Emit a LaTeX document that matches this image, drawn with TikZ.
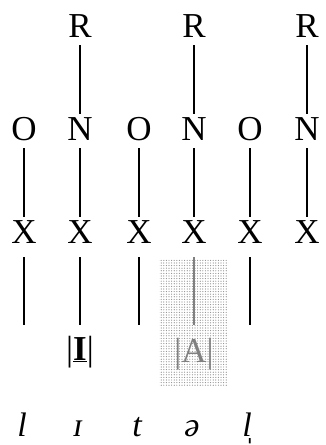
\documentclass[tikz,border=0pt]{standalone}
\usepackage{fontspec}
\setmainfont{Liberation Serif}
\usetikzlibrary{patterns.meta}

\begin{document}
\begin{tikzpicture}[
    x=1pt, y=-1pt,
    seg/.style={font=\fontsize{35}{38}\selectfont, inner xsep=2pt, inner ysep=8pt,
      text height=18pt, text depth=0pt},
    ipa/.style={font=\fontsize{34}{38}\selectfont\itshape, inner sep=0pt, anchor=base},
    tier/.style={line width=1.1pt},
    shade/.style={pattern={Dots[radius=0.6pt, distance=2.6pt]}, pattern color=gray!90}
  ]
    \useasboundingbox (0,0) rectangle (325,445);
    % shaded vowel slot
    \fill[shade] (159,259) rectangle (228,386);
    % R tier
    \node[seg] (r1) at (80,28) {R};
    \node[seg] (r2) at (194,28) {R};
    \node[seg] (r3) at (307,28) {R};
    % O/N tier
    \node[seg] (o1) at (24,131) {O};
    \node[seg] (n1) at (80,131) {N};
    \node[seg] (o2) at (139,131) {O};
    \node[seg] (n2) at (194,131) {N};
    \node[seg] (o3) at (250,131) {O};
    \node[seg] (n3) at (307,131) {N};
    % skeletal tier
    \node[seg] (x1) at (24,234) {X};
    \node[seg] (x2) at (80,234) {X};
    \node[seg] (x3) at (139,234) {X};
    \node[seg] (x4) at (194,234) {X};
    \node[seg] (x5) at (250,234) {X};
    \node[seg] (x6) at (307,234) {X};
    \coordinate (e1) at (24,325);
    \coordinate (e2) at (80,325);
    \coordinate (e3) at (139,325);
    \coordinate (e4) at (194,325);
    \coordinate (e5) at (250,325);
    % elements
    \node[seg] (ei) at (80,351) {|\underline{\textbf{I}}|};
    \node[seg, text=gray] (ea) at (194,353) {|A|};
    % surface forms
    \node[ipa] (s1) at (22,436) {l};
    \node[ipa] (s2) at (78,436) {ɪ};
    \node[ipa] (s3) at (137,436) {t};
    \node[ipa] (s4) at (192,436) {ə};
    \node[ipa] (s5) at (247,436) {l̩};
    % association lines
    \draw[tier] (r1) -- (n1);
    \draw[tier] (r2) -- (n2);
    \draw[tier] (r3) -- (n3);
    \draw[tier] (o1) -- (x1);
    \draw[tier] (n1) -- (x2);
    \draw[tier] (o2) -- (x3);
    \draw[tier] (n2) -- (x4);
    \draw[tier] (o3) -- (x5);
    \draw[tier] (n3) -- (x6);
    \draw[tier] ([yshift=-6pt]x1.south) -- (e1);
    \draw[tier] ([yshift=-6pt]x2.south) -- (e2);
    \draw[tier] ([yshift=-6pt]x3.south) -- (e3);
    \draw[tier, gray] ([yshift=-6pt]x4.south) -- (e4);
    \draw[tier] ([yshift=-6pt]x5.south) -- (e5);
  \end{tikzpicture}
\end{document}
